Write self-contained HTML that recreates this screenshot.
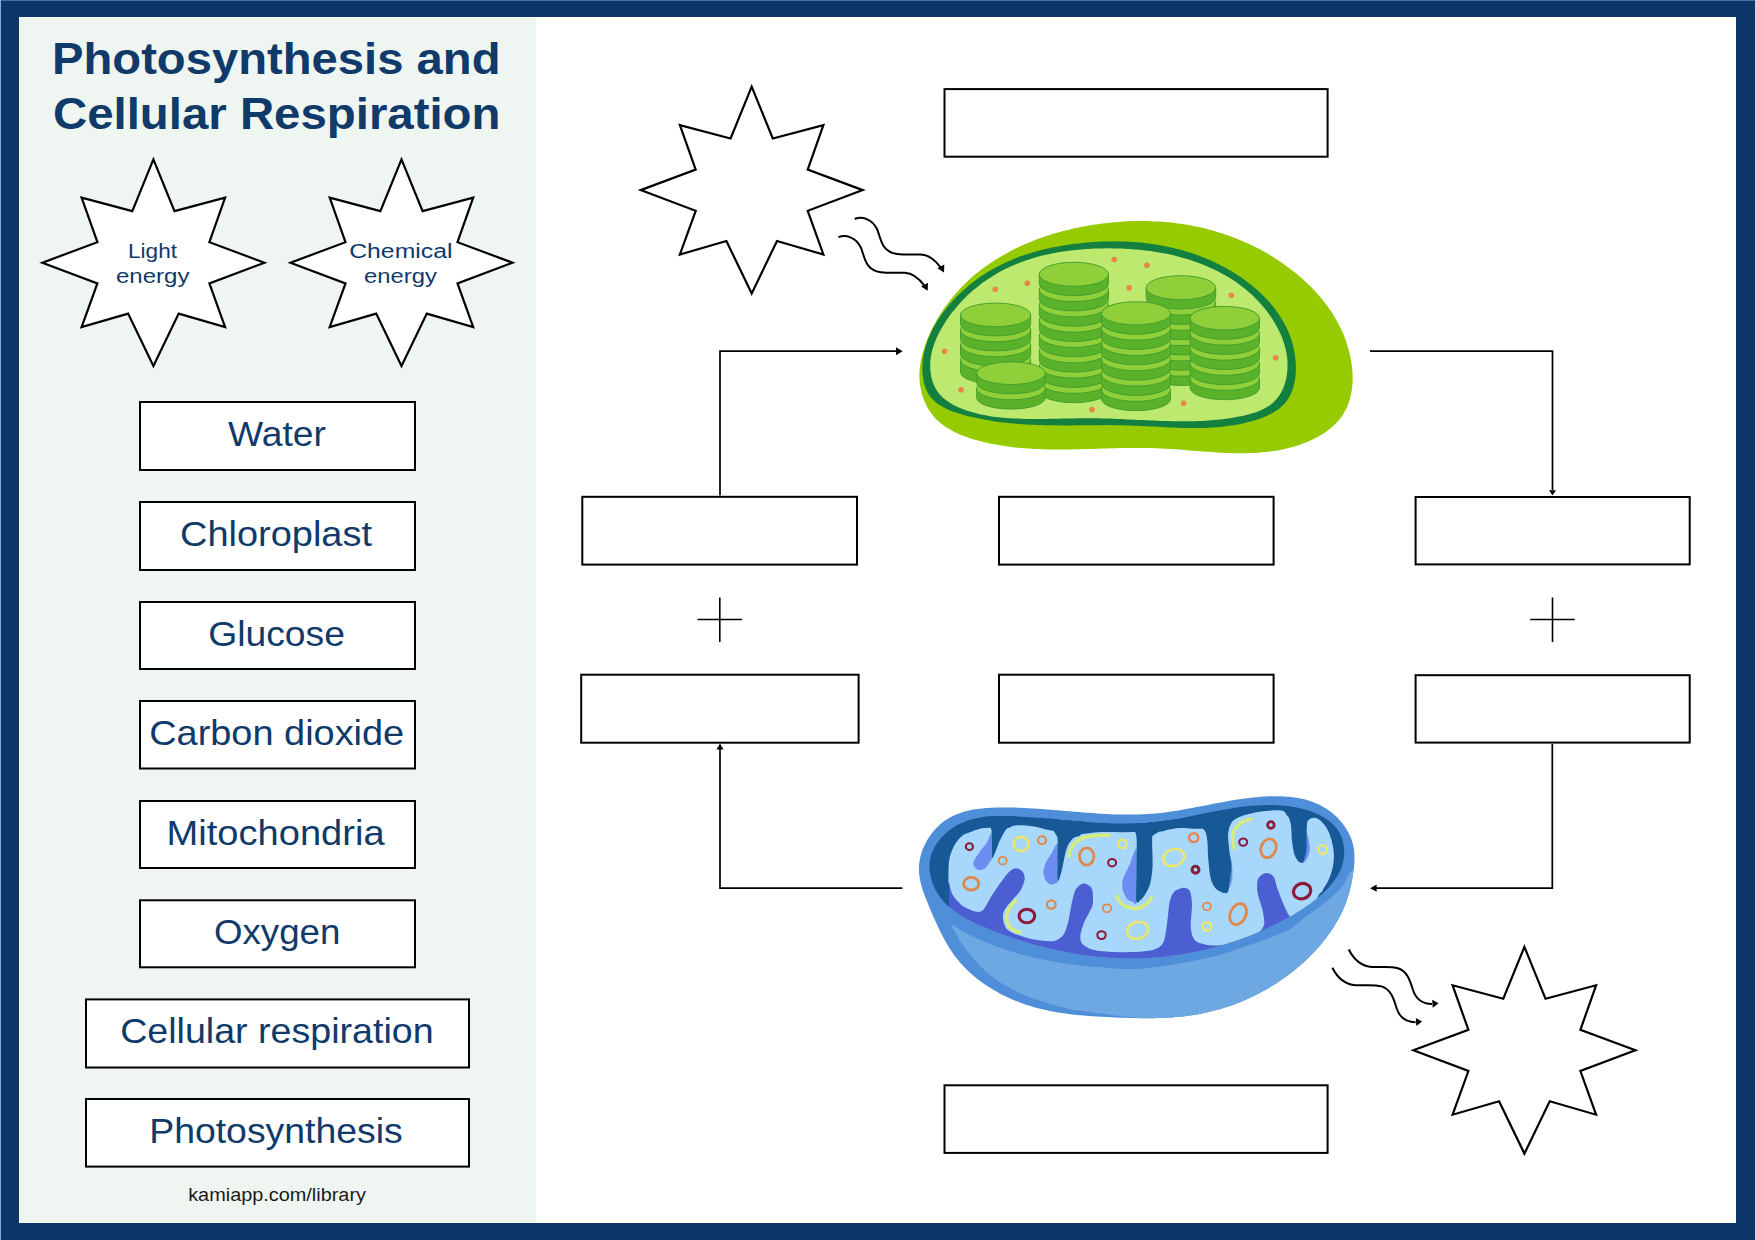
<!DOCTYPE html><html><head><meta charset="utf-8"><title>Photosynthesis and Cellular Respiration</title><style>html,body{margin:0;padding:0;background:#0d3668;}body{width:1755px;height:1240px;overflow:hidden;}svg{display:block;font-family:"Liberation Sans",sans-serif;}</style></head><body><svg width="1755" height="1240" viewBox="0 0 1755 1240"><rect x="0" y="0" width="1755" height="1240" fill="#0d3668"/><rect x="0" y="0" width="1755" height="1" fill="#4b6f9d"/><rect x="0" y="0" width="1" height="1240" fill="#89a9d1"/><rect x="19" y="17" width="1717" height="1206" fill="#fff"/><rect x="19" y="17" width="517" height="1206" fill="#eff5f1"/><text x="52" y="74" font-size="44.4" font-weight="bold" fill="#0f3a6a" textLength="448.5" lengthAdjust="spacingAndGlyphs">Photosynthesis and</text><text x="53" y="129.4" font-size="44.4" font-weight="bold" fill="#0f3a6a" textLength="447.5" lengthAdjust="spacingAndGlyphs">Cellular Respiration</text><path d="M153.4,159.3 174.5,211.1 225.1,197.7 209.4,242.2 264.4,262.7 209.4,283.4 225.1,327.1 178.7,313.6 153.4,366 128.1,313.6 81.6,327.1 97.4,283.4 42.4,262.7 97.4,242.2 81.6,197.7 132.3,211.1Z" fill="#fff" stroke="#000" stroke-width="2.2" stroke-linejoin="miter" stroke-miterlimit="10"/><path d="M401.5,159.3 422.6,211.1 473.2,197.7 457.5,242.2 512.5,262.7 457.5,283.4 473.2,327.1 426.8,313.6 401.5,366 376.2,313.6 329.7,327.1 345.5,283.4 290.5,262.7 345.5,242.2 329.7,197.7 380.4,211.1Z" fill="#fff" stroke="#000" stroke-width="2.2" stroke-linejoin="miter" stroke-miterlimit="10"/><text x="128" y="257.6" font-size="19.5" font-weight="normal" fill="#0f3a6a" textLength="49" lengthAdjust="spacingAndGlyphs">Light</text><text x="116" y="282.6" font-size="19.5" font-weight="normal" fill="#0f3a6a" textLength="73.4" lengthAdjust="spacingAndGlyphs">energy</text><text x="349.2" y="257.6" font-size="19.5" font-weight="normal" fill="#0f3a6a" textLength="103.3" lengthAdjust="spacingAndGlyphs">Chemical</text><text x="364" y="282.6" font-size="19.5" font-weight="normal" fill="#0f3a6a" textLength="72.8" lengthAdjust="spacingAndGlyphs">energy</text><rect x="140" y="402" width="275" height="68" fill="#fff" stroke="#000" stroke-width="2"/><text x="228" y="445.6" font-size="34.5" font-weight="normal" fill="#0f3a6a" textLength="98" lengthAdjust="spacingAndGlyphs">Water</text><rect x="140" y="502" width="275" height="68" fill="#fff" stroke="#000" stroke-width="2"/><text x="180" y="545.6" font-size="34.5" font-weight="normal" fill="#0f3a6a" textLength="192" lengthAdjust="spacingAndGlyphs">Chloroplast</text><rect x="140" y="602" width="275" height="67" fill="#fff" stroke="#000" stroke-width="2"/><text x="208.2" y="645.6" font-size="34.5" font-weight="normal" fill="#0f3a6a" textLength="136.8" lengthAdjust="spacingAndGlyphs">Glucose</text><rect x="140" y="701" width="275" height="67.5" fill="#fff" stroke="#000" stroke-width="2"/><text x="149.2" y="744.6" font-size="34.5" font-weight="normal" fill="#0f3a6a" textLength="255" lengthAdjust="spacingAndGlyphs">Carbon dioxide</text><rect x="140" y="801" width="275" height="67" fill="#fff" stroke="#000" stroke-width="2"/><text x="166.6" y="844.6" font-size="34.5" font-weight="normal" fill="#0f3a6a" textLength="218" lengthAdjust="spacingAndGlyphs">Mitochondria</text><rect x="140" y="900.3" width="275" height="67" fill="#fff" stroke="#000" stroke-width="2"/><text x="214" y="943.9" font-size="34.5" font-weight="normal" fill="#0f3a6a" textLength="126.4" lengthAdjust="spacingAndGlyphs">Oxygen</text><rect x="86" y="999.4" width="383" height="68.1" fill="#fff" stroke="#000" stroke-width="2"/><text x="120.2" y="1043" font-size="34.5" font-weight="normal" fill="#0f3a6a" textLength="313.4" lengthAdjust="spacingAndGlyphs">Cellular respiration</text><rect x="86" y="1099" width="383" height="67.6" fill="#fff" stroke="#000" stroke-width="2"/><text x="149.2" y="1142.6" font-size="34.5" font-weight="normal" fill="#0f3a6a" textLength="253.6" lengthAdjust="spacingAndGlyphs">Photosynthesis</text><text x="188.2" y="1201.3" font-size="18" font-weight="normal" fill="#1a1a1a" textLength="177.8" lengthAdjust="spacingAndGlyphs">kamiapp.com/library</text><path d="M751.7,86.7 772.8,138.5 823.4,125.1 807.7,169.6 862.7,190.1 807.7,210.8 823.4,254.5 777,241 751.7,293.4 726.4,241 679.9,254.5 695.7,210.8 640.7,190.1 695.7,169.6 679.9,125.1 730.6,138.5Z" fill="#fff" stroke="#000" stroke-width="2.2" stroke-linejoin="miter" stroke-miterlimit="10"/><path d="M1524.4,946.9 1545.5,998.7 1596.1,985.3 1580.4,1029.8 1635.4,1050.3 1580.4,1071 1596.1,1114.7 1549.7,1101.2 1524.4,1153.6 1499.1,1101.2 1452.6,1114.7 1468.4,1071 1413.4,1050.3 1468.4,1029.8 1452.6,985.3 1503.3,998.7Z" fill="#fff" stroke="#000" stroke-width="2.2" stroke-linejoin="miter" stroke-miterlimit="10"/><rect x="944.5" y="89.1" width="383.1" height="67.6" fill="#fff" stroke="#000" stroke-width="2"/><rect x="944.5" y="1085.3" width="383.1" height="67.6" fill="#fff" stroke="#000" stroke-width="2"/><rect x="582.3" y="496.8" width="274.7" height="67.8" fill="#fff" stroke="#000" stroke-width="2"/><rect x="999" y="496.8" width="274.6" height="67.8" fill="#fff" stroke="#000" stroke-width="2"/><rect x="1415.6" y="497" width="274.1" height="67.4" fill="#fff" stroke="#000" stroke-width="2"/><rect x="581.2" y="674.7" width="277.4" height="68" fill="#fff" stroke="#000" stroke-width="2"/><rect x="999" y="674.7" width="274.6" height="68" fill="#fff" stroke="#000" stroke-width="2"/><rect x="1415.6" y="675.2" width="274.1" height="67.4" fill="#fff" stroke="#000" stroke-width="2"/><path d="M720,495.5 V351.2 H897" stroke="#000" stroke-width="1.7" fill="none"/><path d="M902.6,351.2 L896,347.2 L896,355.2Z"/><path d="M1370,351.2 H1552.5 V490" stroke="#000" stroke-width="1.7" fill="none"/><path d="M1552.5,495.6 L1549,490.2 L1556,490.2Z"/><path d="M902.4,888.2 H720 V749" stroke="#000" stroke-width="1.7" fill="none"/><path d="M720,743.4 L716.5,749.4 L723.5,749.4Z"/><path d="M1552.3,744 V888.2 H1376" stroke="#000" stroke-width="1.7" fill="none"/><path d="M1370.2,888.2 L1376.6,884.6 L1376.6,891.8Z"/><path d="M697.5,619.5 H742.1 M719.8,597.4 V642" stroke="#000" stroke-width="1.6"/><path d="M1530.2,619.5 H1574.8 M1552.5,597.4 V642" stroke="#000" stroke-width="1.6"/><path d="M854.7,219 C862,216 872,219 877,229 C881,238 881,252 897,254 C905,255 912,254.5 921,254.6 C930,255 936,261 941,268" fill="none" stroke="#000" stroke-width="2"/><path d="M944,272.5 L937.3,268.3 L944.3,264.6Z" fill="#000"/><g transform="translate(-16.3,18.2)"><path d="M854.7,219 C862,216 872,219 877,229 C881,238 881,252 897,254 C905,255 912,254.5 921,254.6 C930,255 936,261 941,268" fill="none" stroke="#000" stroke-width="2"/><path d="M944,272.5 L937.3,268.3 L944.3,264.6Z" fill="#000"/></g><path d="M1348.8,949.5 C1353,958 1360,966 1372,967 C1380,967.5 1390,966 1398,968.2 C1407,971 1410,980 1413,990 C1416,999 1422,1004 1432,1004" fill="none" stroke="#000" stroke-width="2"/><path d="M1438.5,1003.3 L1432.2,999.8 L1432.7,1007.8Z" fill="#000"/><g transform="translate(-16.4,18.2)"><path d="M1348.8,949.5 C1353,958 1360,966 1372,967 C1380,967.5 1390,966 1398,968.2 C1407,971 1410,980 1413,990 C1416,999 1422,1004 1432,1004" fill="none" stroke="#000" stroke-width="2"/><path d="M1438.5,1003.3 L1432.2,999.8 L1432.7,1007.8Z" fill="#000"/></g><path d="M919.4,377 919.4,372.5 919.8,367.9 920.4,363.3 921.2,358.7 922.3,354.2 923.6,349.7 925.1,345.2 926.7,340.8 928.5,336.4 930.4,332.1 932.5,327.9 934.7,323.8 936.9,319.7 939.3,315.8 941.7,311.9 944.3,308.1 947,304.4 949.7,300.8 952.5,297.2 955.5,293.8 958.5,290.4 961.6,287.1 964.7,283.9 968,280.8 971.3,277.8 974.7,274.8 978.2,272 981.8,269.2 985.4,266.5 989.1,264 992.8,261.4 996.7,259 1000.5,256.7 1004.5,254.4 1008.5,252.2 1012.5,250.1 1016.6,248.1 1020.7,246.1 1024.9,244.2 1029.1,242.5 1033.4,240.7 1037.7,239.1 1042,237.5 1046.4,236 1050.8,234.6 1055.2,233.3 1059.7,232 1064.2,230.8 1068.7,229.7 1073.2,228.6 1077.7,227.7 1082.3,226.7 1086.8,225.9 1091.4,225.1 1096,224.4 1100.5,223.8 1105.1,223.2 1109.7,222.7 1114.3,222.2 1118.8,221.9 1123.4,221.6 1128,221.3 1132.5,221.1 1137.1,221 1141.6,221 1146.2,221.1 1150.7,221.2 1155.3,221.4 1159.8,221.6 1164.3,221.9 1168.8,222.3 1173.3,222.8 1177.7,223.4 1182.2,224 1186.7,224.7 1191.1,225.5 1195.5,226.4 1199.9,227.3 1204.3,228.3 1208.7,229.4 1213,230.6 1217.3,231.9 1221.6,233.2 1225.9,234.7 1230.2,236.2 1234.4,237.8 1238.7,239.4 1242.9,241.2 1247,243.1 1251.2,245 1255.3,247 1259.4,249.1 1263.5,251.3 1267.5,253.6 1271.5,256 1275.4,258.5 1279.3,261 1283.2,263.7 1287,266.4 1290.7,269.2 1294.4,272 1298,275 1301.6,278 1305,281.2 1308.4,284.4 1311.7,287.6 1314.9,291 1318,294.4 1321,297.9 1323.9,301.5 1326.6,305.1 1329.3,308.8 1331.9,312.6 1334.3,316.5 1336.6,320.4 1338.7,324.4 1340.8,328.5 1342.7,332.6 1344.4,336.8 1346,341.1 1347.4,345.4 1348.7,349.8 1349.8,354.2 1350.8,358.7 1351.5,363.3 1352.1,367.9 1352.5,372.5 1352.7,377.1 1352.6,381.7 1352.3,386.2 1351.7,390.7 1350.9,395.1 1349.8,399.4 1348.5,403.6 1346.8,407.7 1344.8,411.6 1342.5,415.4 1339.8,418.9 1336.9,422.3 1333.7,425.5 1330.2,428.5 1326.6,431.3 1322.8,433.9 1318.8,436.3 1314.7,438.5 1310.5,440.4 1306.2,442.2 1302,443.9 1297.7,445.4 1293.3,446.7 1289,447.9 1284.6,449 1280.2,449.9 1275.7,450.7 1271.3,451.3 1266.8,451.9 1262.3,452.3 1257.8,452.7 1253.3,452.9 1248.7,453.1 1244.2,453.2 1239.6,453.2 1235,453.2 1230.4,453.1 1225.8,452.9 1221.2,452.7 1216.6,452.4 1212,452.1 1207.3,451.8 1202.7,451.5 1198.1,451.1 1193.4,450.7 1188.8,450.4 1184.2,450 1179.5,449.6 1174.9,449.3 1170.3,449 1165.6,448.7 1161,448.5 1156.4,448.2 1151.8,448.1 1147.2,448 1142.6,447.9 1138,447.9 1133.5,447.9 1128.9,447.9 1124.3,448 1119.8,448.1 1115.2,448.2 1110.7,448.3 1106.2,448.4 1101.6,448.6 1097.1,448.7 1092.5,448.9 1088,449 1083.5,449.1 1079,449.2 1074.4,449.3 1069.9,449.4 1065.4,449.5 1060.9,449.5 1056.3,449.5 1051.8,449.5 1047.3,449.4 1042.7,449.3 1038.2,449.1 1033.7,448.9 1029.1,448.6 1024.6,448.3 1020,447.9 1015.4,447.4 1010.9,446.9 1006.3,446.3 1001.7,445.6 997.1,444.8 992.5,444 987.9,443 983.3,442 978.7,440.8 974.2,439.6 969.7,438.2 965.2,436.6 960.9,434.9 956.7,433.1 952.6,431.1 948.7,428.8 944.9,426.4 941.4,423.8 938.1,420.9 935,417.9 932.2,414.5 929.6,411 927.3,407.2 925.3,403.3 923.6,399.1 922.2,394.9 921.1,390.5 920.2,386.1 919.6,381.6Z" fill="#95cb00"/><path d="M922.9,376.3 922.5,372.5 922.4,368.8 922.5,365 922.7,361.3 923.2,357.6 923.8,353.8 924.6,350.2 925.6,346.5 926.8,342.9 928.1,339.2 929.6,335.7 931.2,332.1 932.9,328.6 934.8,325.2 936.8,321.8 939,318.4 941.2,315.1 943.6,311.9 946,308.7 948.6,305.6 951.2,302.5 953.9,299.5 956.7,296.6 959.6,293.8 962.5,291 965.5,288.4 968.5,285.8 971.6,283.3 974.7,280.9 977.9,278.6 981,276.3 984.3,274.2 987.6,272.1 990.9,270.2 994.2,268.3 997.6,266.4 1001,264.7 1004.5,263 1007.9,261.4 1011.4,259.9 1015,258.5 1018.5,257.1 1022.1,255.8 1025.8,254.6 1029.4,253.4 1033.1,252.3 1036.7,251.2 1040.5,250.2 1044.2,249.3 1047.9,248.4 1051.7,247.6 1055.5,246.9 1059.3,246.2 1063.1,245.5 1066.9,244.9 1070.7,244.3 1074.6,243.8 1078.4,243.4 1082.3,243 1086.2,242.6 1090,242.3 1093.9,242 1097.8,241.8 1101.7,241.6 1105.6,241.5 1109.5,241.4 1113.4,241.3 1117.3,241.4 1121.2,241.4 1125.1,241.6 1129,241.7 1132.8,242 1136.7,242.3 1140.6,242.6 1144.5,243 1148.3,243.5 1152.2,244 1156,244.6 1159.8,245.2 1163.6,245.9 1167.4,246.7 1171.2,247.5 1175,248.4 1178.7,249.3 1182.5,250.3 1186.2,251.4 1189.9,252.6 1193.5,253.8 1197.2,255 1200.8,256.4 1204.4,257.8 1208,259.3 1211.5,260.8 1215.1,262.5 1218.6,264.2 1222,265.9 1225.5,267.8 1228.9,269.7 1232.3,271.7 1235.6,273.8 1238.9,275.9 1242.1,278.1 1245.3,280.4 1248.5,282.8 1251.6,285.2 1254.6,287.7 1257.6,290.3 1260.4,293 1263.2,295.7 1266,298.5 1268.6,301.3 1271.1,304.3 1273.6,307.3 1275.9,310.3 1278.2,313.5 1280.3,316.7 1282.3,319.9 1284.2,323.2 1286,326.6 1287.6,330.1 1289.1,333.6 1290.5,337.2 1291.7,340.8 1292.8,344.5 1293.7,348.3 1294.5,352.1 1295.1,356 1295.5,360 1295.8,364 1295.9,368 1295.8,372.1 1295.5,376.1 1294.9,380 1294.2,383.9 1293.2,387.7 1292,391.3 1290.4,394.8 1288.7,398 1286.6,401.1 1284.3,403.9 1281.6,406.5 1278.8,408.9 1275.7,411 1272.4,413 1269,414.8 1265.4,416.4 1261.8,417.9 1258.1,419.2 1254.3,420.4 1250.5,421.5 1246.7,422.5 1242.9,423.4 1239.1,424.2 1235.3,424.9 1231.5,425.6 1227.6,426.1 1223.8,426.6 1219.9,427 1216.1,427.3 1212.2,427.6 1208.3,427.8 1204.4,428 1200.5,428.1 1196.6,428.1 1192.8,428.1 1188.8,428.1 1184.9,428 1181,427.9 1177.1,427.8 1173.2,427.6 1169.3,427.4 1165.4,427.2 1161.5,427 1157.6,426.8 1153.7,426.6 1149.8,426.4 1145.9,426.2 1142,426 1138.1,425.8 1134.2,425.7 1130.3,425.5 1126.4,425.4 1122.5,425.3 1118.7,425.2 1114.8,425.2 1111,425.2 1107.1,425.1 1103.2,425.1 1099.4,425.2 1095.5,425.2 1091.7,425.2 1087.9,425.2 1084,425.3 1080.2,425.3 1076.3,425.3 1072.5,425.3 1068.6,425.4 1064.8,425.4 1061,425.4 1057.1,425.3 1053.3,425.3 1049.4,425.3 1045.6,425.2 1041.7,425.1 1037.9,425 1034,424.8 1030.2,424.7 1026.3,424.4 1022.5,424.2 1018.6,423.9 1014.7,423.6 1010.8,423.2 1006.9,422.8 1003,422.4 999.1,421.9 995.2,421.4 991.3,420.8 987.4,420.1 983.5,419.4 979.5,418.6 975.6,417.8 971.6,416.9 967.7,416 963.7,414.9 959.8,413.8 955.9,412.6 952.1,411.2 948.4,409.8 944.9,408.1 941.5,406.3 938.3,404.3 935.4,402.1 932.8,399.6 930.4,396.9 928.4,394 926.7,390.8 925.3,387.3 924.2,383.7 923.4,380Z" fill="#13803f"/><path d="M930.2,366.3 930.3,362.6 930.6,359 931.1,355.4 931.9,351.8 932.8,348.3 933.9,344.8 935.2,341.3 936.6,337.9 938.2,334.5 939.9,331.2 941.7,327.9 943.7,324.7 945.7,321.5 947.8,318.4 949.9,315.3 952.2,312.3 954.6,309.4 957,306.5 959.4,303.7 962,300.9 964.6,298.3 967.3,295.6 970,293.1 972.8,290.6 975.7,288.2 978.6,285.9 981.5,283.6 984.5,281.5 987.5,279.4 990.6,277.4 993.7,275.5 996.8,273.6 1000,271.8 1003.2,270.1 1006.4,268.5 1009.7,267 1013,265.5 1016.3,264.1 1019.7,262.7 1023,261.5 1026.4,260.3 1029.9,259.2 1033.3,258.1 1036.8,257.1 1040.3,256.1 1043.8,255.3 1047.4,254.4 1050.9,253.7 1054.5,253 1058.1,252.3 1061.7,251.7 1065.3,251.2 1069,250.7 1072.6,250.2 1076.3,249.9 1080,249.5 1083.7,249.2 1087.4,249 1091.1,248.8 1094.8,248.6 1098.5,248.5 1102.3,248.4 1106,248.3 1109.8,248.3 1113.5,248.4 1117.2,248.5 1121,248.6 1124.7,248.7 1128.5,248.9 1132.2,249.2 1135.9,249.5 1139.6,249.8 1143.4,250.2 1147.1,250.7 1150.8,251.1 1154.4,251.7 1158.1,252.3 1161.8,252.9 1165.4,253.6 1169,254.3 1172.6,255.1 1176.2,256 1179.8,256.9 1183.3,257.9 1186.9,258.9 1190.4,260 1193.8,261.2 1197.3,262.4 1200.7,263.7 1204.1,265 1207.4,266.4 1210.7,267.9 1214,269.4 1217.3,271 1220.5,272.7 1223.7,274.4 1226.8,276.2 1229.9,278.1 1233,280.1 1236,282.1 1239,284.2 1241.9,286.4 1244.7,288.6 1247.5,291 1250.3,293.3 1253,295.8 1255.6,298.4 1258.1,301 1260.6,303.7 1263,306.4 1265.3,309.3 1267.6,312.2 1269.8,315.2 1271.8,318.2 1273.8,321.4 1275.7,324.6 1277.5,327.9 1279.2,331.2 1280.8,334.6 1282.2,338.1 1283.5,341.7 1284.6,345.3 1285.6,348.9 1286.4,352.6 1287,356.4 1287.4,360.2 1287.5,364 1287.5,367.8 1287.2,371.7 1286.8,375.4 1286.1,379.1 1285.1,382.7 1284,386.2 1282.6,389.6 1281,392.8 1279.1,395.8 1277,398.5 1274.7,401.1 1272.2,403.4 1269.5,405.4 1266.5,407.3 1263.4,409 1260.2,410.5 1256.8,411.9 1253.4,413 1249.8,414.1 1246.2,415.1 1242.5,415.9 1238.8,416.6 1235.1,417.3 1231.3,417.9 1227.6,418.5 1223.9,419 1220.2,419.4 1216.5,419.8 1212.8,420.1 1209,420.4 1205.3,420.7 1201.6,420.9 1197.9,421 1194.2,421.2 1190.5,421.3 1186.9,421.3 1183.2,421.3 1179.5,421.3 1175.8,421.3 1172.1,421.2 1168.4,421.1 1164.8,421 1161.1,420.9 1157.4,420.8 1153.7,420.6 1150,420.5 1146.4,420.3 1142.7,420.1 1139,419.9 1135.4,419.8 1131.7,419.6 1128,419.4 1124.4,419.2 1120.7,419.1 1117,418.9 1113.4,418.7 1109.7,418.6 1106,418.5 1102.4,418.4 1098.7,418.3 1095,418.3 1091.4,418.2 1087.7,418.2 1084,418.3 1080.4,418.3 1076.7,418.3 1073,418.4 1069.3,418.5 1065.7,418.5 1062,418.6 1058.3,418.7 1054.6,418.8 1050.9,418.8 1047.3,418.9 1043.6,419 1039.9,419 1036.2,419 1032.5,419 1028.8,418.9 1025.1,418.9 1021.4,418.8 1017.7,418.6 1014,418.5 1010.2,418.3 1006.5,418 1002.8,417.7 999.1,417.3 995.4,416.9 991.7,416.4 988,415.8 984.3,415.1 980.7,414.4 977,413.6 973.4,412.6 969.8,411.6 966.3,410.4 962.7,409.1 959.3,407.7 955.9,406.2 952.6,404.5 949.5,402.6 946.5,400.6 943.8,398.4 941.2,396 938.9,393.4 936.8,390.6 935.1,387.5 933.6,384.3 932.4,380.9 931.4,377.3 930.8,373.7 930.3,370Z" fill="#bde96f"/><circle cx="1114.2" cy="259.5" r="2.8" fill="#e8864a"/><circle cx="1146.9" cy="265.2" r="2.8" fill="#e8864a"/><circle cx="1027.3" cy="283.3" r="2.8" fill="#e8864a"/><circle cx="995.2" cy="289.2" r="2.8" fill="#e8864a"/><circle cx="1129.2" cy="287.7" r="2.8" fill="#e8864a"/><circle cx="1231.3" cy="295.2" r="2.8" fill="#e8864a"/><circle cx="944.6" cy="351.2" r="2.8" fill="#e8864a"/><circle cx="1275.6" cy="357.7" r="2.8" fill="#e8864a"/><circle cx="961" cy="389.7" r="2.8" fill="#e8864a"/><circle cx="1092" cy="409.6" r="2.8" fill="#e8864a"/><circle cx="1183.6" cy="403.3" r="2.8" fill="#e8864a"/><path d="M960.5,359.9 L960.5,372.2 A35.1,11.8 0 0 0 1030.7,372.2 L1030.7,359.9 Z" fill="#5ab22a" stroke="#3f9b2b" stroke-width="0.9"/><ellipse cx="995.6" cy="359.9" rx="35.1" ry="11.8" fill="#8fcf3a" stroke="#3f9b2b" stroke-width="0.9"/><path d="M960.5,344.9 L960.5,354.1 A35.1,11.8 0 0 0 1030.7,354.1 L1030.7,344.9 Z" fill="#5ab22a" stroke="#3f9b2b" stroke-width="0.9"/><ellipse cx="995.6" cy="344.9" rx="35.1" ry="11.8" fill="#8fcf3a" stroke="#3f9b2b" stroke-width="0.9"/><path d="M960.5,329.9 L960.5,339.1 A35.1,11.8 0 0 0 1030.7,339.1 L1030.7,329.9 Z" fill="#5ab22a" stroke="#3f9b2b" stroke-width="0.9"/><ellipse cx="995.6" cy="329.9" rx="35.1" ry="11.8" fill="#8fcf3a" stroke="#3f9b2b" stroke-width="0.9"/><path d="M960.5,314.9 L960.5,324.1 A35.1,11.8 0 0 0 1030.7,324.1 L1030.7,314.9 Z" fill="#5ab22a" stroke="#3f9b2b" stroke-width="0.9"/><ellipse cx="995.6" cy="314.9" rx="35.1" ry="11.8" fill="#8fcf3a" stroke="#3f9b2b" stroke-width="0.9"/><path d="M1039.3,381.4 L1039.3,390.7 A34.6,12 0 0 0 1108.5,390.7 L1108.5,381.4 Z" fill="#5ab22a" stroke="#3f9b2b" stroke-width="0.9"/><ellipse cx="1073.9" cy="381.4" rx="34.6" ry="12" fill="#8fcf3a" stroke="#3f9b2b" stroke-width="0.9"/><path d="M1039.3,366.1 L1039.3,375.4 A34.6,12 0 0 0 1108.5,375.4 L1108.5,366.1 Z" fill="#5ab22a" stroke="#3f9b2b" stroke-width="0.9"/><ellipse cx="1073.9" cy="366.1" rx="34.6" ry="12" fill="#8fcf3a" stroke="#3f9b2b" stroke-width="0.9"/><path d="M1039.3,350.8 L1039.3,360.1 A34.6,12 0 0 0 1108.5,360.1 L1108.5,350.8 Z" fill="#5ab22a" stroke="#3f9b2b" stroke-width="0.9"/><ellipse cx="1073.9" cy="350.8" rx="34.6" ry="12" fill="#8fcf3a" stroke="#3f9b2b" stroke-width="0.9"/><path d="M1039.3,335.5 L1039.3,344.8 A34.6,12 0 0 0 1108.5,344.8 L1108.5,335.5 Z" fill="#5ab22a" stroke="#3f9b2b" stroke-width="0.9"/><ellipse cx="1073.9" cy="335.5" rx="34.6" ry="12" fill="#8fcf3a" stroke="#3f9b2b" stroke-width="0.9"/><path d="M1039.3,320.2 L1039.3,329.5 A34.6,12 0 0 0 1108.5,329.5 L1108.5,320.2 Z" fill="#5ab22a" stroke="#3f9b2b" stroke-width="0.9"/><ellipse cx="1073.9" cy="320.2" rx="34.6" ry="12" fill="#8fcf3a" stroke="#3f9b2b" stroke-width="0.9"/><path d="M1039.3,304.9 L1039.3,314.2 A34.6,12 0 0 0 1108.5,314.2 L1108.5,304.9 Z" fill="#5ab22a" stroke="#3f9b2b" stroke-width="0.9"/><ellipse cx="1073.9" cy="304.9" rx="34.6" ry="12" fill="#8fcf3a" stroke="#3f9b2b" stroke-width="0.9"/><path d="M1039.3,289.6 L1039.3,298.9 A34.6,12 0 0 0 1108.5,298.9 L1108.5,289.6 Z" fill="#5ab22a" stroke="#3f9b2b" stroke-width="0.9"/><ellipse cx="1073.9" cy="289.6" rx="34.6" ry="12" fill="#8fcf3a" stroke="#3f9b2b" stroke-width="0.9"/><path d="M1039.3,274.3 L1039.3,283.6 A34.6,12 0 0 0 1108.5,283.6 L1108.5,274.3 Z" fill="#5ab22a" stroke="#3f9b2b" stroke-width="0.9"/><ellipse cx="1073.9" cy="274.3" rx="34.6" ry="12" fill="#8fcf3a" stroke="#3f9b2b" stroke-width="0.9"/><path d="M1146.1,364.2 L1146.1,373.5 A34.8,12 0 0 0 1215.7,373.5 L1215.7,364.2 Z" fill="#5ab22a" stroke="#3f9b2b" stroke-width="0.9"/><ellipse cx="1180.9" cy="364.2" rx="34.8" ry="12" fill="#8fcf3a" stroke="#3f9b2b" stroke-width="0.9"/><path d="M1146.1,348.9 L1146.1,358.2 A34.8,12 0 0 0 1215.7,358.2 L1215.7,348.9 Z" fill="#5ab22a" stroke="#3f9b2b" stroke-width="0.9"/><ellipse cx="1180.9" cy="348.9" rx="34.8" ry="12" fill="#8fcf3a" stroke="#3f9b2b" stroke-width="0.9"/><path d="M1146.1,333.6 L1146.1,342.9 A34.8,12 0 0 0 1215.7,342.9 L1215.7,333.6 Z" fill="#5ab22a" stroke="#3f9b2b" stroke-width="0.9"/><ellipse cx="1180.9" cy="333.6" rx="34.8" ry="12" fill="#8fcf3a" stroke="#3f9b2b" stroke-width="0.9"/><path d="M1146.1,318.3 L1146.1,327.6 A34.8,12 0 0 0 1215.7,327.6 L1215.7,318.3 Z" fill="#5ab22a" stroke="#3f9b2b" stroke-width="0.9"/><ellipse cx="1180.9" cy="318.3" rx="34.8" ry="12" fill="#8fcf3a" stroke="#3f9b2b" stroke-width="0.9"/><path d="M1146.1,303 L1146.1,312.3 A34.8,12 0 0 0 1215.7,312.3 L1215.7,303 Z" fill="#5ab22a" stroke="#3f9b2b" stroke-width="0.9"/><ellipse cx="1180.9" cy="303" rx="34.8" ry="12" fill="#8fcf3a" stroke="#3f9b2b" stroke-width="0.9"/><path d="M1146.1,287.7 L1146.1,297 A34.8,12 0 0 0 1215.7,297 L1215.7,287.7 Z" fill="#5ab22a" stroke="#3f9b2b" stroke-width="0.9"/><ellipse cx="1180.9" cy="287.7" rx="34.8" ry="12" fill="#8fcf3a" stroke="#3f9b2b" stroke-width="0.9"/><path d="M1101.5,389.8 L1101.5,399.1 A34.5,11.6 0 0 0 1170.5,399.1 L1170.5,389.8 Z" fill="#5ab22a" stroke="#3f9b2b" stroke-width="0.9"/><ellipse cx="1136" cy="389.8" rx="34.5" ry="11.6" fill="#8fcf3a" stroke="#3f9b2b" stroke-width="0.9"/><path d="M1101.5,374.5 L1101.5,383.8 A34.5,11.6 0 0 0 1170.5,383.8 L1170.5,374.5 Z" fill="#5ab22a" stroke="#3f9b2b" stroke-width="0.9"/><ellipse cx="1136" cy="374.5" rx="34.5" ry="11.6" fill="#8fcf3a" stroke="#3f9b2b" stroke-width="0.9"/><path d="M1101.5,359.2 L1101.5,368.5 A34.5,11.6 0 0 0 1170.5,368.5 L1170.5,359.2 Z" fill="#5ab22a" stroke="#3f9b2b" stroke-width="0.9"/><ellipse cx="1136" cy="359.2" rx="34.5" ry="11.6" fill="#8fcf3a" stroke="#3f9b2b" stroke-width="0.9"/><path d="M1101.5,343.9 L1101.5,353.2 A34.5,11.6 0 0 0 1170.5,353.2 L1170.5,343.9 Z" fill="#5ab22a" stroke="#3f9b2b" stroke-width="0.9"/><ellipse cx="1136" cy="343.9" rx="34.5" ry="11.6" fill="#8fcf3a" stroke="#3f9b2b" stroke-width="0.9"/><path d="M1101.5,328.6 L1101.5,337.9 A34.5,11.6 0 0 0 1170.5,337.9 L1170.5,328.6 Z" fill="#5ab22a" stroke="#3f9b2b" stroke-width="0.9"/><ellipse cx="1136" cy="328.6" rx="34.5" ry="11.6" fill="#8fcf3a" stroke="#3f9b2b" stroke-width="0.9"/><path d="M1101.5,313.3 L1101.5,322.6 A34.5,11.6 0 0 0 1170.5,322.6 L1170.5,313.3 Z" fill="#5ab22a" stroke="#3f9b2b" stroke-width="0.9"/><ellipse cx="1136" cy="313.3" rx="34.5" ry="11.6" fill="#8fcf3a" stroke="#3f9b2b" stroke-width="0.9"/><path d="M1190.1,378.6 L1190.1,387.9 A34.7,11.8 0 0 0 1259.5,387.9 L1259.5,378.6 Z" fill="#5ab22a" stroke="#3f9b2b" stroke-width="0.9"/><ellipse cx="1224.8" cy="378.6" rx="34.7" ry="11.8" fill="#8fcf3a" stroke="#3f9b2b" stroke-width="0.9"/><path d="M1190.1,363.5 L1190.1,372.8 A34.7,11.8 0 0 0 1259.5,372.8 L1259.5,363.5 Z" fill="#5ab22a" stroke="#3f9b2b" stroke-width="0.9"/><ellipse cx="1224.8" cy="363.5" rx="34.7" ry="11.8" fill="#8fcf3a" stroke="#3f9b2b" stroke-width="0.9"/><path d="M1190.1,348.4 L1190.1,357.7 A34.7,11.8 0 0 0 1259.5,357.7 L1259.5,348.4 Z" fill="#5ab22a" stroke="#3f9b2b" stroke-width="0.9"/><ellipse cx="1224.8" cy="348.4" rx="34.7" ry="11.8" fill="#8fcf3a" stroke="#3f9b2b" stroke-width="0.9"/><path d="M1190.1,333.3 L1190.1,342.6 A34.7,11.8 0 0 0 1259.5,342.6 L1259.5,333.3 Z" fill="#5ab22a" stroke="#3f9b2b" stroke-width="0.9"/><ellipse cx="1224.8" cy="333.3" rx="34.7" ry="11.8" fill="#8fcf3a" stroke="#3f9b2b" stroke-width="0.9"/><path d="M1190.1,318.2 L1190.1,327.5 A34.7,11.8 0 0 0 1259.5,327.5 L1259.5,318.2 Z" fill="#5ab22a" stroke="#3f9b2b" stroke-width="0.9"/><ellipse cx="1224.8" cy="318.2" rx="34.7" ry="11.8" fill="#8fcf3a" stroke="#3f9b2b" stroke-width="0.9"/><path d="M976.7,388.5 L976.7,397.8 A34.3,11.3 0 0 0 1045.3,397.8 L1045.3,388.5 Z" fill="#5ab22a" stroke="#3f9b2b" stroke-width="0.9"/><ellipse cx="1011" cy="388.5" rx="34.3" ry="11.3" fill="#8fcf3a" stroke="#3f9b2b" stroke-width="0.9"/><path d="M976.7,373.2 L976.7,382.5 A34.3,11.3 0 0 0 1045.3,382.5 L1045.3,373.2 Z" fill="#5ab22a" stroke="#3f9b2b" stroke-width="0.9"/><ellipse cx="1011" cy="373.2" rx="34.3" ry="11.3" fill="#8fcf3a" stroke="#3f9b2b" stroke-width="0.9"/><defs><clipPath id="cav"><path d="M929.9,860 930.8,856.2 932,852.4 933.7,848.8 935.6,845.3 937.9,841.9 940.4,838.7 943.2,835.7 946.1,832.9 949.3,830.3 952.5,827.9 955.9,825.8 959.4,824 962.9,822.4 966.6,821 970.3,819.8 974,818.8 977.8,818 981.7,817.3 985.6,816.8 989.6,816.5 993.6,816.2 997.6,816.1 1001.6,816 1005.7,816.1 1009.8,816.2 1013.8,816.3 1017.9,816.5 1021.9,816.7 1026,817 1030,817.2 1034,817.5 1038.1,817.8 1042.1,818.1 1046.1,818.5 1050.1,818.8 1054.1,819.1 1058.1,819.5 1062.1,819.9 1066.1,820.2 1070.1,820.6 1074.1,820.9 1078.1,821.2 1082.1,821.6 1086,821.9 1090,822.2 1094,822.4 1098,822.7 1101.9,822.9 1105.9,823.1 1109.8,823.3 1113.8,823.4 1117.8,823.5 1121.7,823.5 1125.7,823.6 1129.6,823.5 1133.6,823.4 1137.5,823.3 1141.5,823.1 1145.4,822.9 1149.4,822.6 1153.3,822.2 1157.3,821.8 1161.3,821.3 1165.2,820.8 1169.2,820.2 1173.1,819.6 1177.1,818.9 1181,818.2 1185,817.4 1189,816.6 1192.9,815.9 1196.9,815.1 1200.8,814.2 1204.8,813.4 1208.8,812.6 1212.7,811.8 1216.7,811.1 1220.7,810.3 1224.6,809.6 1228.6,808.9 1232.5,808.2 1236.5,807.6 1240.5,807 1244.5,806.5 1248.4,806.1 1252.4,805.7 1256.4,805.4 1260.3,805.2 1264.3,805 1268.3,805 1272.3,805 1276.2,805.2 1280.2,805.4 1284.2,805.8 1288.2,806.3 1292.1,806.9 1296.1,807.6 1300.1,808.5 1304.1,809.5 1308,810.6 1311.9,811.9 1315.7,813.4 1319.4,815.1 1323,817 1326.3,819 1329.5,821.3 1332.4,823.8 1335,826.5 1337.4,829.5 1339.4,832.7 1341,836.2 1342.3,839.8 1343.3,843.6 1343.9,847.5 1344.2,851.4 1344.1,855.4 1343.6,859.3 1342.8,863.2 1341.7,867 1340.2,870.6 1338.4,874.2 1336.3,877.6 1334,880.9 1331.5,884.1 1328.9,887.2 1326,890.2 1323.1,893 1320.1,895.8 1317,898.4 1313.8,901 1310.6,903.4 1307.4,905.8 1304.1,908 1300.8,910.2 1297.4,912.3 1294,914.4 1290.6,916.4 1287.1,918.3 1283.6,920.2 1280.1,922 1276.5,923.8 1273,925.6 1269.4,927.3 1265.7,929 1262.1,930.6 1258.4,932.2 1254.8,933.7 1251.1,935.2 1247.3,936.7 1243.6,938.1 1239.8,939.4 1236.1,940.8 1232.3,942 1228.5,943.3 1224.7,944.4 1220.8,945.6 1217,946.7 1213.1,947.7 1209.2,948.7 1205.4,949.7 1201.5,950.6 1197.6,951.4 1193.7,952.2 1189.7,953 1185.8,953.7 1181.9,954.4 1177.9,955 1174,955.5 1170,956.1 1166,956.5 1162.1,957 1158.1,957.3 1154.1,957.6 1150.2,957.9 1146.2,958.1 1142.2,958.3 1138.2,958.4 1134.2,958.5 1130.3,958.5 1126.3,958.5 1122.3,958.4 1118.3,958.3 1114.4,958.1 1110.4,957.9 1106.4,957.6 1102.5,957.3 1098.5,956.9 1094.6,956.5 1090.6,956 1086.7,955.5 1082.7,954.9 1078.8,954.3 1074.8,953.7 1070.9,953 1067,952.3 1063.1,951.5 1059.1,950.7 1055.2,949.8 1051.3,949 1047.4,948 1043.5,947 1039.7,946 1035.8,945 1031.9,943.9 1028,942.8 1024.2,941.6 1020.3,940.4 1016.5,939.2 1012.6,937.9 1008.8,936.6 1005,935.2 1001.2,933.9 997.4,932.5 993.6,931 989.8,929.6 986.1,928 982.3,926.5 978.6,924.9 974.9,923.2 971.3,921.5 967.8,919.7 964.3,917.7 960.9,915.7 957.6,913.5 954.4,911.3 951.4,908.9 948.5,906.3 945.7,903.6 943.1,900.7 940.6,897.6 938.4,894.3 936.3,890.9 934.4,887.3 932.8,883.5 931.5,879.7 930.5,875.8 929.8,871.8 929.4,867.9 929.5,863.9Z"/></clipPath><clipPath id="mout"><path d="M918.9,868.1 919.2,863.6 919.9,859.1 921,854.6 922.4,850.1 924.3,845.8 926.4,841.6 928.8,837.5 931.5,833.7 934.5,830.1 937.7,826.7 941,823.6 944.6,820.8 948.3,818.4 952.2,816.3 956.2,814.4 960.3,812.9 964.5,811.6 968.8,810.5 973.2,809.6 977.7,808.9 982.2,808.4 986.8,808 991.4,807.7 996.1,807.6 1000.7,807.5 1005.3,807.5 1010,807.5 1014.6,807.6 1019.2,807.8 1023.9,808 1028.5,808.2 1033.1,808.5 1037.7,808.8 1042.3,809.1 1046.9,809.4 1051.5,809.8 1056.1,810.2 1060.7,810.5 1065.3,810.9 1069.9,811.3 1074.4,811.7 1079,812.1 1083.6,812.5 1088.1,812.8 1092.7,813.1 1097.2,813.4 1101.8,813.7 1106.3,814 1110.9,814.2 1115.4,814.4 1120,814.5 1124.5,814.6 1129,814.6 1133.5,814.5 1138.1,814.5 1142.6,814.3 1147.1,814.1 1151.6,813.8 1156.1,813.4 1160.6,812.9 1165.1,812.4 1169.6,811.8 1174.1,811.1 1178.6,810.4 1183.1,809.6 1187.6,808.8 1192.1,808 1196.6,807.1 1201.1,806.3 1205.6,805.4 1210.1,804.5 1214.7,803.6 1219.2,802.8 1223.7,801.9 1228.3,801.1 1232.9,800.3 1237.4,799.6 1242,798.9 1246.6,798.3 1251.2,797.7 1255.9,797.2 1260.5,796.8 1265.2,796.5 1269.8,796.3 1274.5,796.2 1279.2,796.2 1283.8,796.4 1288.4,796.7 1293,797.2 1297.5,797.9 1301.9,798.7 1306.3,799.8 1310.6,801.2 1314.8,802.7 1318.9,804.6 1322.9,806.7 1326.7,809 1330.4,811.6 1334,814.5 1337.3,817.6 1340.4,820.9 1343.3,824.4 1345.8,828.1 1348.1,832 1350.1,836 1351.8,840.2 1353,844.5 1353.9,849 1354.4,853.6 1354.5,858.3 1354.3,863 1353.9,867.8 1353.2,872.5 1352.5,877.1 1351.7,881.7 1350.8,886.1 1349.8,890.5 1348.6,894.8 1347.2,899.1 1345.7,903.4 1344,907.5 1342.2,911.7 1340.2,915.7 1338.1,919.7 1335.8,923.6 1333.4,927.5 1330.9,931.3 1328.2,935.1 1325.5,938.7 1322.6,942.3 1319.7,945.9 1316.6,949.3 1313.4,952.7 1310.2,956 1306.9,959.3 1303.5,962.4 1300,965.5 1296.5,968.5 1292.9,971.4 1289.2,974.2 1285.5,977 1281.8,979.6 1278,982.2 1274.1,984.7 1270.2,987.1 1266.3,989.4 1262.3,991.6 1258.3,993.7 1254.3,995.8 1250.2,997.7 1246.1,999.6 1241.9,1001.4 1237.7,1003.1 1233.5,1004.7 1229.2,1006.2 1224.9,1007.6 1220.6,1008.9 1216.2,1010.1 1211.8,1011.3 1207.4,1012.3 1203,1013.3 1198.5,1014.2 1194,1014.9 1189.5,1015.6 1185,1016.2 1180.4,1016.7 1175.8,1017.1 1171.3,1017.5 1166.7,1017.8 1162,1018 1157.4,1018.1 1152.8,1018.2 1148.2,1018.2 1143.5,1018.2 1138.9,1018.2 1134.3,1018.1 1129.6,1018 1125,1017.8 1120.4,1017.7 1115.8,1017.5 1111.1,1017.3 1106.5,1017.1 1102,1016.8 1097.4,1016.6 1092.8,1016.3 1088.3,1016 1083.7,1015.6 1079.2,1015.2 1074.7,1014.7 1070.2,1014.2 1065.7,1013.6 1061.3,1013 1056.8,1012.3 1052.4,1011.5 1048,1010.6 1043.6,1009.6 1039.2,1008.5 1034.8,1007.4 1030.5,1006.1 1026.1,1004.7 1021.8,1003.2 1017.5,1001.6 1013.3,999.9 1009,998 1004.8,996 1000.6,993.9 996.5,991.6 992.5,989.3 988.5,986.8 984.6,984.2 980.8,981.5 977.1,978.7 973.5,975.7 970,972.7 966.7,969.5 963.5,966.3 960.5,962.9 957.6,959.4 954.8,955.9 952.2,952.2 949.7,948.5 947.4,944.7 945.1,940.8 943,936.8 940.9,932.8 938.9,928.7 937,924.6 935.1,920.4 933.2,916.2 931.4,911.9 929.6,907.7 927.9,903.4 926.1,899.1 924.4,894.7 922.9,890.4 921.5,886 920.4,881.6 919.5,877.1 919,872.6Z"/></clipPath></defs><path d="M918.9,868.1 919.2,863.6 919.9,859.1 921,854.6 922.4,850.1 924.3,845.8 926.4,841.6 928.8,837.5 931.5,833.7 934.5,830.1 937.7,826.7 941,823.6 944.6,820.8 948.3,818.4 952.2,816.3 956.2,814.4 960.3,812.9 964.5,811.6 968.8,810.5 973.2,809.6 977.7,808.9 982.2,808.4 986.8,808 991.4,807.7 996.1,807.6 1000.7,807.5 1005.3,807.5 1010,807.5 1014.6,807.6 1019.2,807.8 1023.9,808 1028.5,808.2 1033.1,808.5 1037.7,808.8 1042.3,809.1 1046.9,809.4 1051.5,809.8 1056.1,810.2 1060.7,810.5 1065.3,810.9 1069.9,811.3 1074.4,811.7 1079,812.1 1083.6,812.5 1088.1,812.8 1092.7,813.1 1097.2,813.4 1101.8,813.7 1106.3,814 1110.9,814.2 1115.4,814.4 1120,814.5 1124.5,814.6 1129,814.6 1133.5,814.5 1138.1,814.5 1142.6,814.3 1147.1,814.1 1151.6,813.8 1156.1,813.4 1160.6,812.9 1165.1,812.4 1169.6,811.8 1174.1,811.1 1178.6,810.4 1183.1,809.6 1187.6,808.8 1192.1,808 1196.6,807.1 1201.1,806.3 1205.6,805.4 1210.1,804.5 1214.7,803.6 1219.2,802.8 1223.7,801.9 1228.3,801.1 1232.9,800.3 1237.4,799.6 1242,798.9 1246.6,798.3 1251.2,797.7 1255.9,797.2 1260.5,796.8 1265.2,796.5 1269.8,796.3 1274.5,796.2 1279.2,796.2 1283.8,796.4 1288.4,796.7 1293,797.2 1297.5,797.9 1301.9,798.7 1306.3,799.8 1310.6,801.2 1314.8,802.7 1318.9,804.6 1322.9,806.7 1326.7,809 1330.4,811.6 1334,814.5 1337.3,817.6 1340.4,820.9 1343.3,824.4 1345.8,828.1 1348.1,832 1350.1,836 1351.8,840.2 1353,844.5 1353.9,849 1354.4,853.6 1354.5,858.3 1354.3,863 1353.9,867.8 1353.2,872.5 1352.5,877.1 1351.7,881.7 1350.8,886.1 1349.8,890.5 1348.6,894.8 1347.2,899.1 1345.7,903.4 1344,907.5 1342.2,911.7 1340.2,915.7 1338.1,919.7 1335.8,923.6 1333.4,927.5 1330.9,931.3 1328.2,935.1 1325.5,938.7 1322.6,942.3 1319.7,945.9 1316.6,949.3 1313.4,952.7 1310.2,956 1306.9,959.3 1303.5,962.4 1300,965.5 1296.5,968.5 1292.9,971.4 1289.2,974.2 1285.5,977 1281.8,979.6 1278,982.2 1274.1,984.7 1270.2,987.1 1266.3,989.4 1262.3,991.6 1258.3,993.7 1254.3,995.8 1250.2,997.7 1246.1,999.6 1241.9,1001.4 1237.7,1003.1 1233.5,1004.7 1229.2,1006.2 1224.9,1007.6 1220.6,1008.9 1216.2,1010.1 1211.8,1011.3 1207.4,1012.3 1203,1013.3 1198.5,1014.2 1194,1014.9 1189.5,1015.6 1185,1016.2 1180.4,1016.7 1175.8,1017.1 1171.3,1017.5 1166.7,1017.8 1162,1018 1157.4,1018.1 1152.8,1018.2 1148.2,1018.2 1143.5,1018.2 1138.9,1018.2 1134.3,1018.1 1129.6,1018 1125,1017.8 1120.4,1017.7 1115.8,1017.5 1111.1,1017.3 1106.5,1017.1 1102,1016.8 1097.4,1016.6 1092.8,1016.3 1088.3,1016 1083.7,1015.6 1079.2,1015.2 1074.7,1014.7 1070.2,1014.2 1065.7,1013.6 1061.3,1013 1056.8,1012.3 1052.4,1011.5 1048,1010.6 1043.6,1009.6 1039.2,1008.5 1034.8,1007.4 1030.5,1006.1 1026.1,1004.7 1021.8,1003.2 1017.5,1001.6 1013.3,999.9 1009,998 1004.8,996 1000.6,993.9 996.5,991.6 992.5,989.3 988.5,986.8 984.6,984.2 980.8,981.5 977.1,978.7 973.5,975.7 970,972.7 966.7,969.5 963.5,966.3 960.5,962.9 957.6,959.4 954.8,955.9 952.2,952.2 949.7,948.5 947.4,944.7 945.1,940.8 943,936.8 940.9,932.8 938.9,928.7 937,924.6 935.1,920.4 933.2,916.2 931.4,911.9 929.6,907.7 927.9,903.4 926.1,899.1 924.4,894.7 922.9,890.4 921.5,886 920.4,881.6 919.5,877.1 919,872.6Z" fill="#4f8ed8"/><path d="M951.4,924.5C952.5,923.9 959.3,929.8 965.1,932.7C970.9,935.6 982.7,940.9 990.2,943.9C997.7,946.9 1007.8,950.4 1015.3,952.7C1022.8,955 1032.9,957.4 1040.4,959C1047.9,960.6 1057.9,962.3 1065.4,963.4C1072.9,964.5 1083,965.8 1090.5,966.5C1098,967.2 1108.9,968 1115.6,968.4C1122.3,968.8 1128.3,969.3 1135,969C1141.7,968.7 1151.9,967.6 1160.2,966.5C1168.5,965.4 1181.4,963.3 1190.5,961.5C1199.6,959.7 1211.6,957 1220.7,954.4C1229.8,951.8 1243.4,947 1251,944.4C1258.6,941.8 1265.2,939.6 1271.1,937.3C1276.9,935 1284.7,932.4 1290,929.2C1295.3,926 1302,919.4 1306.3,916.2C1310.6,913 1314.8,910.4 1318.4,907.7C1322,905 1326.9,901.4 1330.5,898.1C1334.1,894.8 1339.3,890.2 1342.6,886C1345.9,881.8 1350,871.1 1352.3,870.2C1354.6,869.3 1357.1,866.5 1358,880C1358.9,893.5 1366.7,937.5 1358,960C1349.3,982.5 1328.2,1020.1 1300,1030C1271.8,1039.9 1193.7,1027.7 1170,1026C1146.3,1024.3 1149.5,1020.1 1142,1018.6C1134.5,1017.1 1126.3,1016.8 1120,1016C1113.7,1015.2 1106,1014.3 1100,1013.5C1094,1012.7 1084.6,1011.4 1080,1010.7C1075.4,1010 1073,1009.8 1069.4,1009C1065.8,1008.2 1059.8,1006.7 1055.7,1005.6C1051.6,1004.5 1046.2,1002.8 1042.1,1001.5C1038,1000.2 1032.5,998.3 1028.4,996.7C1024.3,995.1 1018.8,992.7 1014.7,990.6C1010.6,988.5 1004.6,985.3 1001,983C997.4,980.7 993.9,978 990.8,975.5C987.7,973 983.6,969.7 980.5,966.6C977.4,963.5 972.8,958.1 970.3,955C967.8,951.9 965.4,948.8 963.5,946C961.6,943.2 959.4,939.6 957.6,936.4C955.8,933.2 950.3,925.1 951.4,924.5Z" fill="#6ea8e3" clip-path="url(#mout)"/><path d="M929.9,860 930.8,856.2 932,852.4 933.7,848.8 935.6,845.3 937.9,841.9 940.4,838.7 943.2,835.7 946.1,832.9 949.3,830.3 952.5,827.9 955.9,825.8 959.4,824 962.9,822.4 966.6,821 970.3,819.8 974,818.8 977.8,818 981.7,817.3 985.6,816.8 989.6,816.5 993.6,816.2 997.6,816.1 1001.6,816 1005.7,816.1 1009.8,816.2 1013.8,816.3 1017.9,816.5 1021.9,816.7 1026,817 1030,817.2 1034,817.5 1038.1,817.8 1042.1,818.1 1046.1,818.5 1050.1,818.8 1054.1,819.1 1058.1,819.5 1062.1,819.9 1066.1,820.2 1070.1,820.6 1074.1,820.9 1078.1,821.2 1082.1,821.6 1086,821.9 1090,822.2 1094,822.4 1098,822.7 1101.9,822.9 1105.9,823.1 1109.8,823.3 1113.8,823.4 1117.8,823.5 1121.7,823.5 1125.7,823.6 1129.6,823.5 1133.6,823.4 1137.5,823.3 1141.5,823.1 1145.4,822.9 1149.4,822.6 1153.3,822.2 1157.3,821.8 1161.3,821.3 1165.2,820.8 1169.2,820.2 1173.1,819.6 1177.1,818.9 1181,818.2 1185,817.4 1189,816.6 1192.9,815.9 1196.9,815.1 1200.8,814.2 1204.8,813.4 1208.8,812.6 1212.7,811.8 1216.7,811.1 1220.7,810.3 1224.6,809.6 1228.6,808.9 1232.5,808.2 1236.5,807.6 1240.5,807 1244.5,806.5 1248.4,806.1 1252.4,805.7 1256.4,805.4 1260.3,805.2 1264.3,805 1268.3,805 1272.3,805 1276.2,805.2 1280.2,805.4 1284.2,805.8 1288.2,806.3 1292.1,806.9 1296.1,807.6 1300.1,808.5 1304.1,809.5 1308,810.6 1311.9,811.9 1315.7,813.4 1319.4,815.1 1323,817 1326.3,819 1329.5,821.3 1332.4,823.8 1335,826.5 1337.4,829.5 1339.4,832.7 1341,836.2 1342.3,839.8 1343.3,843.6 1343.9,847.5 1344.2,851.4 1344.1,855.4 1343.6,859.3 1342.8,863.2 1341.7,867 1340.2,870.6 1338.4,874.2 1336.3,877.6 1334,880.9 1331.5,884.1 1328.9,887.2 1326,890.2 1323.1,893 1320.1,895.8 1317,898.4 1313.8,901 1310.6,903.4 1307.4,905.8 1304.1,908 1300.8,910.2 1297.4,912.3 1294,914.4 1290.6,916.4 1287.1,918.3 1283.6,920.2 1280.1,922 1276.5,923.8 1273,925.6 1269.4,927.3 1265.7,929 1262.1,930.6 1258.4,932.2 1254.8,933.7 1251.1,935.2 1247.3,936.7 1243.6,938.1 1239.8,939.4 1236.1,940.8 1232.3,942 1228.5,943.3 1224.7,944.4 1220.8,945.6 1217,946.7 1213.1,947.7 1209.2,948.7 1205.4,949.7 1201.5,950.6 1197.6,951.4 1193.7,952.2 1189.7,953 1185.8,953.7 1181.9,954.4 1177.9,955 1174,955.5 1170,956.1 1166,956.5 1162.1,957 1158.1,957.3 1154.1,957.6 1150.2,957.9 1146.2,958.1 1142.2,958.3 1138.2,958.4 1134.2,958.5 1130.3,958.5 1126.3,958.5 1122.3,958.4 1118.3,958.3 1114.4,958.1 1110.4,957.9 1106.4,957.6 1102.5,957.3 1098.5,956.9 1094.6,956.5 1090.6,956 1086.7,955.5 1082.7,954.9 1078.8,954.3 1074.8,953.7 1070.9,953 1067,952.3 1063.1,951.5 1059.1,950.7 1055.2,949.8 1051.3,949 1047.4,948 1043.5,947 1039.7,946 1035.8,945 1031.9,943.9 1028,942.8 1024.2,941.6 1020.3,940.4 1016.5,939.2 1012.6,937.9 1008.8,936.6 1005,935.2 1001.2,933.9 997.4,932.5 993.6,931 989.8,929.6 986.1,928 982.3,926.5 978.6,924.9 974.9,923.2 971.3,921.5 967.8,919.7 964.3,917.7 960.9,915.7 957.6,913.5 954.4,911.3 951.4,908.9 948.5,906.3 945.7,903.6 943.1,900.7 940.6,897.6 938.4,894.3 936.3,890.9 934.4,887.3 932.8,883.5 931.5,879.7 930.5,875.8 929.8,871.8 929.4,867.9 929.5,863.9Z" fill="#165996"/><g clip-path="url(#cav)"><path d="M948.5,869.5C948.7,864.9 948.7,861.4 949.7,857.4C950.7,853.4 952.5,848.9 954.5,845.3C956.5,841.7 959.4,838.2 962,836C964.6,833.8 967,833.5 970,832.3C973,831.1 976.8,829.5 979.8,828.8C982.8,828 984.9,828.2 988.3,827.8C991.7,827.4 996,826.8 1000,826.5C1004,826.2 1008.9,826 1012.6,825.8C1016.3,825.6 1018.6,825 1022.4,825.2C1026.2,825.4 1031.1,826 1035.5,826.8C1039.9,827.6 1043.7,829.1 1048.6,830.1C1053.5,831.1 1060.1,832.3 1065,833C1069.9,833.7 1072.8,834.4 1078.2,834.3C1083.6,834.2 1089.6,832.6 1097.4,832.2C1105.2,831.9 1116,832.3 1124.8,832.2C1133.6,832.1 1143.1,831.8 1150,831.5C1156.9,831.2 1161,830.8 1166,830.2C1171,829.6 1174,828.3 1179.7,828.1C1185.4,827.9 1193.6,829.1 1200.3,828.8C1207,828.4 1213.3,828 1220,826C1226.7,824 1233.7,818.9 1240.5,816.5C1247.3,814.1 1254.9,812.6 1261.1,811.6C1267.3,810.6 1273.7,810.3 1277.6,810.3C1281.5,810.3 1282.5,810.6 1284.3,811.6C1286.1,812.6 1285.8,815.4 1288.4,816.5C1291,817.6 1296.3,817.7 1300,818C1303.7,818.3 1308.2,818.2 1310.7,818.2C1313.2,818.2 1313.2,817.4 1314.8,817.8C1316.4,818.2 1318.5,818.9 1320.6,820.7C1322.7,822.6 1325.4,825.7 1327.2,828.9C1329,832.1 1330.3,835.7 1331.4,839.7C1332.5,843.7 1333.5,848.5 1333.8,852.9C1334.1,857.3 1333.8,861.7 1333,866.1C1332.2,870.5 1330.7,875.2 1328.9,879.3C1327.1,883.4 1324.6,886.6 1322.3,890.9C1320,895.2 1320.4,888.5 1315,905C1309.6,921.5 1342.5,975 1290,990C1237.5,1005 1056.8,995 1000,995C943.2,995 957.6,1008.3 949,990C940.4,971.7 948.7,905.1 948.6,885C948.5,864.9 948.3,874.1 948.5,869.5Z" fill="#a7d7fb"/><rect x="920" y="882.8" width="29" height="60" fill="#165996"/><path d="M949,995 L949,882.8 C949.6,884.4 950.8,890.9 952.1,893.7C953.4,896.5 956.2,899.5 958,901.5C959.8,903.5 961.5,905.5 964.2,907C966.9,908.5 973.4,911.4 976.3,911.8C979.2,912.2 981.4,911.6 983.6,909.4C985.8,907.2 988.3,901.3 990.8,897.3C993.3,893.3 997.8,886.6 1000.5,882.8C1003.2,879 1006.6,874.1 1009,871.9C1011.4,869.7 1014.2,868.3 1016.2,868.2C1018.2,868.1 1021.2,869.9 1022.5,871.5C1023.8,873.1 1025,876.1 1024.7,879C1024.4,881.9 1022.4,887.3 1020.5,890.5C1018.6,893.7 1014.3,897.7 1012,900.5C1009.7,903.3 1006.4,906.4 1005,909C1003.6,911.6 1002.5,914.8 1002.9,917.9C1003.3,921 1004.5,927.1 1007.8,930C1011.1,932.9 1019.4,935.6 1024.7,937.2C1030,938.8 1038.4,940.3 1042.9,940.8C1047.4,941.3 1051.9,941.7 1055,940.8C1058.1,939.9 1061.4,937.7 1063.4,934.8C1065.4,931.9 1067,926.4 1068.3,921.5C1069.6,916.6 1070.8,906.9 1072,902C1073.2,897.1 1074.2,891.8 1076,889C1077.8,886.2 1081.4,883.8 1083.7,883.6C1086,883.5 1090.1,885.8 1091.5,888C1092.9,890.2 1092.9,895.1 1093,898C1093.1,900.9 1093.3,903.2 1091.9,907C1090.5,910.8 1085.4,918.9 1083.7,923.4C1082,927.9 1080.3,933.8 1080.3,937.1C1080.3,940.4 1081.1,943.2 1083.7,945.3C1086.3,947.4 1091.2,949.8 1097.4,950.8C1103.6,951.8 1116.6,952.3 1124.8,952.2C1133,952.1 1146.1,951.7 1151.8,950.3C1157.5,948.9 1160.7,947.1 1163,943.1C1165.3,939.1 1166,929.9 1167,923.9C1168,917.9 1168.5,907.8 1169.5,903C1170.5,898.2 1171.9,894.3 1174,892C1176.1,889.7 1181.4,887.9 1183.8,887.8C1186.2,887.7 1188.8,888.9 1190,891.5C1191.2,894.1 1191.9,899.4 1192,905C1192.1,910.6 1190.2,923.2 1190.9,928.7C1191.6,934.2 1192.8,939 1196.5,941.5C1200.2,944 1209.1,945.5 1215.6,945.5C1222,945.5 1233.5,943.1 1239.5,941.5C1245.5,939.9 1251.8,937.6 1255.5,935.1C1259.2,932.6 1263,928.8 1264,925C1265,921.2 1263.5,914.8 1262.5,910C1261.5,905.2 1258.3,897.4 1257.6,892.8C1256.9,888.2 1256.8,882.1 1258,879.1C1259.2,876.1 1263.5,873.4 1265.8,873C1268.1,872.6 1271.7,874 1273.5,876.4C1275.3,878.8 1276.1,884.9 1277.5,888.7C1278.9,892.5 1281.1,898.4 1282.6,902C1284.1,905.6 1285.5,909.3 1287.4,912.8C1289.3,916.2 1293.9,923.2 1295,925 L1296,995Z" fill="#4b5fd2"/><path d="M991.6,833C990.9,831.1 988.6,840 987,842.5C985.4,845 981.5,849.2 979.8,851.7C978.1,854.2 974.7,859 973.9,860.9C973.1,862.8 973.3,864.9 973.9,866.1C974.5,867.3 977.1,869.7 978.5,870C979.9,870.3 982.9,869.7 984.4,868.7C985.9,867.7 988.7,863.8 989.7,862.2C990.7,860.6 991.7,860.9 992,857C992.3,853.1 992.3,834.9 991.6,833Z" fill="#6d8cf0"/><path d="M1057.5,844.5C1056.8,840.9 1053.4,850.6 1051.9,853C1050.4,855.4 1047.1,859.7 1046,862.2C1044.9,864.7 1043.5,869 1043.4,871.4C1043.3,873.8 1044.4,878.2 1045.4,879.9C1046.4,881.6 1049.3,884.1 1050.6,884.5C1051.9,884.9 1054.3,883.8 1055.2,883.2C1056.1,882.6 1057.2,885.1 1057.5,879.9C1057.8,874.7 1058.2,848.1 1057.5,844.5Z" fill="#6d8cf0"/><path d="M1136.6,849.5C1135.8,844.5 1131.8,859.7 1130,863.7C1128.2,867.7 1123.8,876.2 1122.8,879.7C1121.8,883.2 1122.2,887.7 1122.8,890.3C1123.4,892.9 1126,897.7 1127.3,899.2C1128.6,900.7 1131.4,901.6 1132.6,901.8C1133.8,902 1135.8,908 1136.3,901C1136.8,894 1137.4,854.5 1136.6,849.5Z" fill="#6d8cf0"/><path d="M1229.7,853.7C1229.9,853.2 1231.9,862.8 1232.2,866.1C1232.5,869.4 1232.5,875.6 1232.2,878.5C1231.9,881.4 1229.9,888.7 1229.7,887.6C1229.5,886.5 1230.6,874.5 1230.6,870C1230.6,865.5 1229.5,854.2 1229.7,853.7Z" fill="#6d8cf0"/><path d="M1306.6,831.4C1307.1,831.1 1309.8,844.4 1309.9,847.9C1310,851.4 1308.3,856 1307.4,857.9C1306.5,859.8 1303.5,863.5 1303.3,862.4C1303.1,861.3 1305.8,854.1 1306.2,850C1306.6,845.9 1306.1,831.7 1306.6,831.4Z" fill="#6d8cf0"/><path d="M984,816C980.5,817.3 988.5,824 989.5,826C990.5,828 991.3,828.8 991.6,830.7C991.9,832.6 991.9,836.6 992,840C992.1,843.4 991.9,854.2 992,856.5C992.1,858.8 992.3,858.4 992.9,857.5C993.5,856.6 995.3,851.9 996.2,849.7C997.1,847.5 998.6,843.2 999.5,841.2C1000.4,839.2 1001.8,836.4 1002.8,834.7C1003.8,833 1005.4,830 1006.7,828.8C1008,827.6 1011.4,827.5 1012.6,825.8C1013.8,824.1 1019.8,817.3 1016,816C1012.2,814.7 987.5,814.7 984,816Z" fill="#165996"/><path d="M1048,816C1043.6,818.3 1053.9,830.3 1055.2,833.3C1056.5,836.3 1057.2,834.9 1057.5,838.5C1057.8,842.1 1057.5,854.5 1057.5,860C1057.5,865.5 1057.3,877.4 1057.5,880C1057.7,882.6 1058.5,880.6 1059.1,879.4C1059.7,878.2 1061.1,873.2 1061.7,870.7C1062.3,868.2 1063.2,863.4 1063.7,860.9C1064.2,858.4 1065.1,853.9 1065.7,851.7C1066.3,849.5 1067.3,846.3 1068.3,844.5C1069.3,842.7 1071.8,839.3 1073.5,837.9C1075.2,836.5 1079.5,836.9 1081.4,834C1083.3,831.1 1092.5,818.4 1088,816C1083.5,813.6 1052.4,813.7 1048,816Z" fill="#165996"/><path d="M1128,816C1123,817.9 1133.2,827 1134.3,830C1135.4,833 1136.3,833.2 1136.6,838.5C1136.9,843.8 1136.6,861.7 1136.6,870C1136.6,878.3 1135.8,896.9 1136.3,901C1136.8,905.1 1138.8,901.3 1140,900.5C1141.2,899.7 1143.6,897.1 1145,894.8C1146.4,892.5 1149.3,887.1 1150.3,883.2C1151.3,879.3 1152.4,871.4 1152.6,865.5C1152.8,859.6 1151.9,843 1152.1,838.9C1152.3,834.8 1152.9,835.9 1153.8,835C1154.7,834.1 1157.7,832.5 1159.2,831.8C1160.7,831.1 1163.7,832.1 1165.4,830C1167.1,827.9 1177,817.9 1172,816C1167,814.1 1133,814.1 1128,816Z" fill="#165996"/><path d="M1194,814C1188.8,815.9 1199.5,823.6 1201,826C1202.5,828.4 1204.6,830 1205.5,832C1206.4,834 1207,837.8 1207.4,841.3C1207.8,844.8 1207.8,852.9 1208.2,857.9C1208.6,862.9 1209.7,874.4 1210.7,878.5C1211.7,882.6 1213.9,886.5 1215.7,888.4C1217.5,890.3 1222.2,892.6 1223.9,893C1225.6,893.4 1227.3,893.1 1228.1,891.7C1228.9,890.3 1229.3,886 1229.7,882.6C1230.1,879.2 1231.4,870 1231.4,866.1C1231.4,862.2 1230.1,857.6 1229.7,853.7C1229.3,849.8 1228.2,840.5 1228.1,837.2C1228,833.9 1228.4,830.9 1228.9,828.9C1229.4,826.9 1230.5,824.3 1232,822C1233.5,819.7 1245.1,813.1 1240,812C1234.9,810.9 1199.2,812.1 1194,814Z" fill="#165996"/><path d="M1284,806C1280.6,807.1 1287.5,814 1288.4,816.5C1289.3,819 1290.4,821.5 1290.9,824.8C1291.4,828.1 1291.7,837.4 1292.1,841.3C1292.5,845.2 1293.4,851 1294.2,853.7C1295,856.4 1297.2,860 1298.3,861.2C1299.4,862.4 1301.7,862.7 1302.4,862.8C1303.1,862.9 1302.9,863.8 1303.5,862C1304.1,860.2 1306.2,853.5 1306.6,849.6C1307,845.7 1306.5,836.8 1306.6,833.1C1306.7,829.4 1306.9,823.5 1307.4,821.5C1307.9,819.5 1309.8,820 1310.7,818.2C1311.6,816.4 1317.6,809.6 1314,808C1310.4,806.4 1287.4,804.9 1284,806Z" fill="#165996"/><ellipse cx="969.4" cy="846.7" rx="3.6" ry="3.4" fill="none" stroke="#8c1b3c" stroke-width="2.1"/><ellipse cx="971.2" cy="883.7" rx="7.6" ry="6.3" fill="none" stroke="#e0884a" stroke-width="2.8"/><ellipse cx="1002.7" cy="860.7" rx="4" ry="3.8" fill="none" stroke="#e0884a" stroke-width="1.8"/><ellipse cx="1021.1" cy="844" rx="7.4" ry="7" fill="none" stroke="#eee66a" stroke-width="2.5"/><ellipse cx="1042" cy="840.2" rx="4" ry="4" fill="none" stroke="#e0884a" stroke-width="2.1"/><ellipse cx="1051.3" cy="904.5" rx="4.4" ry="4.2" fill="none" stroke="#e0884a" stroke-width="2.2"/><ellipse cx="1026.9" cy="916" rx="7.8" ry="6.8" fill="none" stroke="#8c1b3c" stroke-width="3.1"/><ellipse cx="1086.7" cy="856.5" rx="7.2" ry="8.6" fill="none" stroke="#e0884a" stroke-width="2.8"/><ellipse cx="1122.4" cy="843.9" rx="4.4" ry="4.2" fill="none" stroke="#eee66a" stroke-width="2.2"/><ellipse cx="1112.1" cy="862.7" rx="4" ry="3.7" fill="none" stroke="#8c1b3c" stroke-width="2.1"/><ellipse cx="1107" cy="908.3" rx="4.2" ry="4" fill="none" stroke="#e0884a" stroke-width="1.8"/><ellipse cx="1101.5" cy="935.1" rx="4.2" ry="3.9" fill="none" stroke="#8c1b3c" stroke-width="2.1"/><ellipse cx="1137.6" cy="930.3" rx="10.6" ry="8.3" fill="none" stroke="#eee66a" stroke-width="2.5" transform="rotate(-15 1137.6 930.3)"/><ellipse cx="1193.7" cy="837.7" rx="4.6" ry="4.4" fill="none" stroke="#e0884a" stroke-width="2.5"/><ellipse cx="1173.8" cy="857.6" rx="10.8" ry="8.3" fill="none" stroke="#eee66a" stroke-width="2.5" transform="rotate(-15 1173.8 857.6)"/><ellipse cx="1195.5" cy="869.7" rx="3.4" ry="3.4" fill="none" stroke="#8c1b3c" stroke-width="3.1"/><ellipse cx="1270.9" cy="825" rx="3.3" ry="3.3" fill="none" stroke="#8c1b3c" stroke-width="2.8"/><ellipse cx="1243.2" cy="842.1" rx="4" ry="3.6" fill="none" stroke="#8c1b3c" stroke-width="2.1"/><ellipse cx="1268.5" cy="848.3" rx="7.4" ry="9.6" fill="none" stroke="#e0884a" stroke-width="2.8" transform="rotate(20 1268.5 848.3)"/><ellipse cx="1322.7" cy="849.6" rx="4.5" ry="4.3" fill="none" stroke="#eee66a" stroke-width="2.2"/><ellipse cx="1302.1" cy="891.2" rx="8.8" ry="7.6" fill="none" stroke="#8c1b3c" stroke-width="3.2" transform="rotate(-20 1302.1 891.2)"/><ellipse cx="1238.1" cy="914.1" rx="7.8" ry="11" fill="none" stroke="#e0884a" stroke-width="2.8" transform="rotate(25 1238.1 914.1)"/><ellipse cx="1206.9" cy="906.5" rx="4" ry="3.8" fill="none" stroke="#e0884a" stroke-width="1.8"/><ellipse cx="1206.9" cy="926.4" rx="4.3" ry="4.2" fill="none" stroke="#eee66a" stroke-width="2.5"/><path d="M1015.6,900.9 C1008,907 1003.5,918 1009,926 C1012,930 1016,931.5 1019.9,932.4" fill="none" stroke="#d8ec78" stroke-width="3.4" stroke-linecap="round"/><path d="M1068.7,856.3 C1070,846 1077,838.5 1088,836.5 C1095,835.3 1102,835.2 1108.9,835.4" fill="none" stroke="#d8ec78" stroke-width="3.4" stroke-linecap="round"/><path d="M1116.6,896 C1120,905 1128,909 1136,908.5 C1143,908 1149,903 1151.6,897.4" fill="none" stroke="#d8ec78" stroke-width="3.4" stroke-linecap="round"/><path d="M1250.7,818.8 C1243,821 1236,825 1233.5,832 C1231.5,838 1233,844 1234.3,848.3" fill="none" stroke="#d8ec78" stroke-width="3.4" stroke-linecap="round"/></g></svg></body></html>
